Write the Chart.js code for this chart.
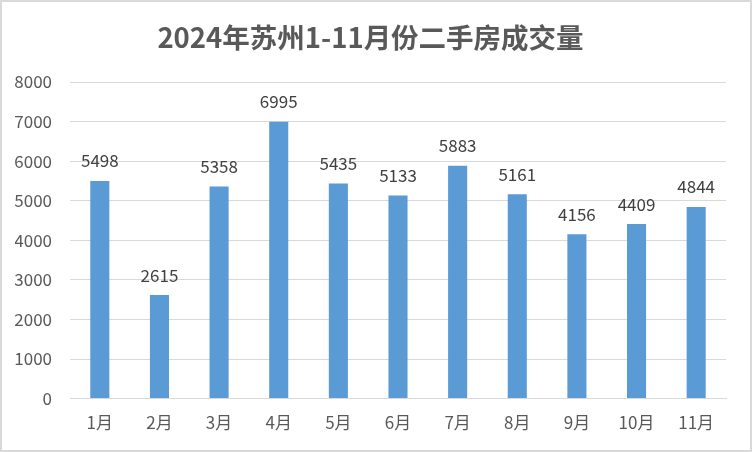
<!DOCTYPE html>
<html>
<head>
<meta charset="utf-8">
<script src="https://cdn.jsdelivr.net/npm/chart.js@4"></script>
<style>
  html, body { margin: 0; padding: 0; background: #fff; }
  #wrap { width: 752px; height: 452px; box-sizing: border-box; border: 2px solid #d9d9d9; }
  #c { display: block; }
</style>
</head>
<body>
<div id="wrap"><canvas id="c" width="748" height="448"></canvas></div>
<script>
const months = ['1月', '2月', '3月', '4月', '5月', '6月', '7月', '8月', '9月', '10月', '11月'];
const volumes = [5498, 2615, 5358, 6995, 5435, 5133, 5883, 5161, 4156, 4409, 4844];
const yTicks = [0, 1000, 2000, 3000, 4000, 5000, 6000, 7000, 8000];

const FONT = '"Noto Sans CJK SC", "Noto Sans", sans-serif';

// values above each bar
const barLabels = {
  id: 'barLabels',
  afterDatasetsDraw(chart) {
    const ctx = chart.ctx;
    const meta = chart.getDatasetMeta(0);
    ctx.save();
    ctx.font = '17px ' + FONT;
    ctx.fillStyle = '#404040';
    ctx.textAlign = 'center';
    ctx.textBaseline = 'middle';
    meta.data.forEach((bar, i) => {
      ctx.fillText(String(volumes[i]), bar.x, bar.y - 20);
    });
    ctx.restore();
  }
};

const chart = new Chart(document.getElementById('c').getContext('2d'), {
  type: 'bar',
  data: {
    labels: months,
    datasets: [{
      data: volumes,
      backgroundColor: '#5b9bd5',
      barPercentage: 0.32,
      categoryPercentage: 1
    }]
  },
  options: {
    responsive: false,
    animation: false,
    layout: { padding: { left: 13, right: 24, top: 0, bottom: 3 } },
    plugins: {
      legend: { display: false },
      tooltip: { enabled: false },
      title: {
        display: true,
        text: '2024年苏州1-11月份二手房成交量',
        color: '#595959',
        font: { family: FONT, size: 27.5, weight: 'bold' },
        padding: { top: 19, bottom: 28 }
      }
    },
    scales: {
      x: {
        grid: { display: false, drawTicks: false },
        border: { color: '#d9d9d9', width: 1 },
        ticks: { color: '#595959', font: { family: FONT, size: 17 }, padding: 14 }
      },
      y: {
        min: 0,
        max: 8000,
        afterBuildTicks: axis => { axis.ticks = yTicks.map(v => ({ value: v })); },
        afterFit: axis => { axis.width = 55; },
        grid: { color: '#d9d9d9', drawTicks: false },
        border: { display: false },
        ticks: { color: '#595959', font: { family: FONT, size: 17 }, padding: 18, callback: v => String(v) }
      }
    }
  },
  plugins: [barLabels]
});
</script>
</body>
</html>
